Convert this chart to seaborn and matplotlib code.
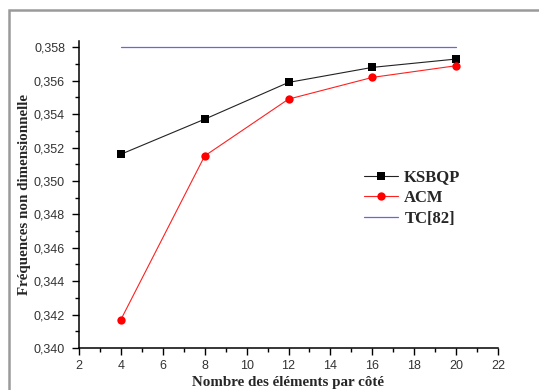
import matplotlib
matplotlib.use("Agg")
import matplotlib.pyplot as plt
import seaborn as sns
from matplotlib.patches import Rectangle
from matplotlib.ticker import MultipleLocator, FuncFormatter

x_vals = [4, 8, 12, 16, 20]
ksbqp = [0.3516, 0.3537, 0.3559, 0.3568, 0.3573]
acm = [0.3417, 0.3515, 0.3549, 0.3562, 0.3569]
tc_x = [4, 20]
tc = [0.35805, 0.35805]

sns.set_style("ticks")
plt.rcParams['font.family'] = ['Liberation Sans', 'DejaVu Sans']

fig = plt.figure(figsize=(5.39, 3.9), dpi=100)
ax = fig.add_axes([79/539, 1-348/390, (498-79)/539, (348-41)/390])

sns.lineplot(x=x_vals, y=ksbqp, color="#222222", marker="s", markersize=5.2,
             markerfacecolor="black", markeredgewidth=0, linewidth=0.8,
             label="KSBQP", ax=ax)
sns.lineplot(x=x_vals, y=acm, color="#ff2020", marker="o", markersize=6,
             markerfacecolor="#ff0000", markeredgewidth=0, linewidth=0.8,
             label="ACM", ax=ax)
sns.lineplot(x=tc_x, y=tc, color="#6464ec", linewidth=0.9, label="TC[82]", ax=ax)

ax.set_xlim(2, 22)
ax.set_ylim(0.340, 0.35838)
ax.xaxis.set_major_locator(MultipleLocator(2))
ax.xaxis.set_minor_locator(MultipleLocator(1))
ax.yaxis.set_major_locator(MultipleLocator(0.002))
ax.yaxis.set_minor_locator(MultipleLocator(0.001))
ax.yaxis.set_major_formatter(FuncFormatter(lambda v, p: f"{v:.3f}".replace(".", ",")))
ax.tick_params(which="major", direction="out", length=5, width=1, labelsize=9,
               labelcolor="#333333", color="black")
ax.tick_params(axis="y", which="major", pad=5)
ax.tick_params(which="minor", direction="out", length=3, width=1, color="black")
ax.spines["top"].set_visible(False)
ax.spines["right"].set_visible(False)
for s in ("left", "bottom"):
    ax.spines[s].set_linewidth(1.1)
    ax.spines[s].set_color("black")

serif = {"family": ["Liberation Serif", "DejaVu Serif"], "weight": "bold", "size": 10.8}
ax.set_xlabel("Nombre des éléments par côté", fontdict=serif, labelpad=3)
ax.set_ylabel("Fréquences non dimensionnelle", fontdict=serif, labelpad=2)

leg = ax.legend(title=None, loc="upper left", bbox_to_anchor=(0.645, 0.63),
                frameon=False, prop={"family": ["Liberation Serif"], "weight": "bold", "size": 12},
                handlelength=2.0, handletextpad=0.4, labelspacing=0.28)

fig.patches.append(Rectangle((9/539, -0.2), 1.2, 0.2 + 1 - 9.5/390,
                             transform=fig.transFigure, fill=False,
                             edgecolor="#9a9a9a", linewidth=1.8))

fig.savefig("out.png", dpi=100)
